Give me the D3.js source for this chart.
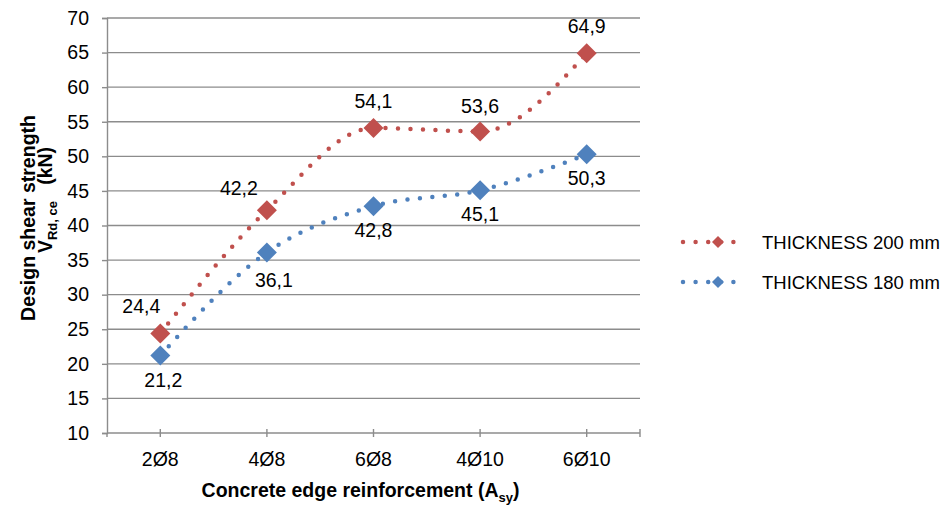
<!DOCTYPE html>
<html>
<head>
<meta charset="utf-8">
<script src="https://cdn.jsdelivr.net/npm/d3@7"></script>
<style>
  body { margin: 0; background: #fff; }
  svg { display: block; font-family: "Liberation Sans", Arial, sans-serif; }
</style>
</head>
<body>
<div id="chart"></div>
<script>
// data
const categories = ["2Ø8", "4Ø8", "6Ø8", "4Ø10", "6Ø10"];
const thickness200 = [24.4, 42.2, 54.1, 53.6, 64.9];
const thickness180 = [21.2, 36.1, 42.8, 45.1, 50.3];
const seriesNames = ["THICKNESS 200 mm", "THICKNESS 180 mm"];
const yTicks = [10, 15, 20, 25, 30, 35, 40, 45, 50, 55, 60, 65, 70];

// layout
const svgWidth = 947, svgHeight = 508;
const margin = {top: 18, right: 307, bottom: 75, left: 107};
const plotW = svgWidth - margin.left - margin.right;
const plotH = svgHeight - margin.top - margin.bottom;
const gridColour = "#8c8c8c";

const series = [
    { name: seriesNames[0], values: thickness200, colour: "#C0504D", labelSide: -1,
      nudge: [[-19, 0], [-28, 5], [0, 0], [0, 2], [0, 0]] },
    { name: seriesNames[1], values: thickness180, colour: "#4F81BD", labelSide: 1,
      nudge: [[3, 0], [7, 4], [0, 0], [0, 0], [0, 0]] }
];

const svg = d3.select("#chart").append("svg")
    .attr("width", svgWidth)
    .attr("height", svgHeight);

const x = d3.scaleBand()
    .domain(categories)
    .range([0, plotW])
    .padding(0);

const y = d3.scaleLinear()
    .domain([10, 70])
    .range([plotH, 0]);

const plotArea = svg.append("g")
    .attr("class", "plot-area")
    .attr("transform", `translate(${margin.left},${margin.top})`);

// horizontal gridlines
plotArea.append("g")
    .attr("class", "grid")
    .selectAll("line")
    .data(yTicks.filter(d => d > 10))
    .enter().append("line")
        .attr("x1", 0)
        .attr("x2", plotW)
        .attr("y1", d => y(d))
        .attr("y2", d => y(d))
        .attr("stroke", gridColour)
        .attr("stroke-width", 1.4);

// y axis
const yAxis = plotArea.append("g")
    .attr("class", "y-axis")
    .call(d3.axisLeft(y).tickValues(yTicks).tickSize(5).tickPadding(13).tickFormat(d3.format("d")));
yAxis.select(".domain").attr("stroke", gridColour).attr("stroke-width", 1.4);
yAxis.selectAll(".tick line").attr("stroke", gridColour).attr("stroke-width", 1.4);
yAxis.selectAll(".tick text")
    .attr("font-size", 19.5)
    .attr("font-family", "Liberation Sans, Arial, sans-serif")
    .attr("fill", "#000");

// x axis: ticks at category centres and both ends
const xAxis = plotArea.append("g")
    .attr("class", "x-axis")
    .attr("transform", `translate(0,${plotH})`);
xAxis.append("line")
    .attr("x1", 0).attr("x2", plotW)
    .attr("stroke", gridColour).attr("stroke-width", 1.4);
const xTickPos = [0, ...categories.map(c => x(c) + x.bandwidth() / 2), plotW];
xAxis.selectAll(".xtick")
    .data(xTickPos)
    .enter().append("line")
        .attr("class", "xtick")
        .attr("x1", d => d).attr("x2", d => d)
        .attr("y1", d => d === 0 ? 0 : -4).attr("y2", 4)
        .attr("stroke", gridColour).attr("stroke-width", 1.4);
xAxis.selectAll(".xlabel")
    .data(categories)
    .enter().append("text")
        .attr("class", "xlabel")
        .attr("x", d => x(d) + x.bandwidth() / 2)
        .attr("y", 33)
        .attr("text-anchor", "middle")
        .attr("font-size", 19.5)
        .attr("fill", "#000")
        .text(d => d);

// axis titles
const xTitle = svg.append("text")
    .attr("x", margin.left + plotW / 2 - 13)
    .attr("y", 497)
    .attr("text-anchor", "middle")
    .attr("font-size", 19.5)
    .attr("font-weight", "bold")
    .attr("fill", "#000");
xTitle.append("tspan").text("Concrete edge reinforcement (A");
xTitle.append("tspan").attr("font-size", 13).attr("dy", 5).text("sy");
xTitle.append("tspan").attr("dy", -5).text(")");

svg.append("text")
    .attr("transform", "translate(35,218) rotate(-90)")
    .attr("text-anchor", "middle")
    .attr("font-size", 19.5)
    .attr("font-weight", "bold")
    .attr("fill", "#000")
    .text("Design shear strength");

const yTitle2 = svg.append("text")
    .attr("transform", "translate(52,200) rotate(-90)")
    .attr("text-anchor", "middle")
    .attr("font-size", 19.5)
    .attr("font-weight", "bold")
    .attr("fill", "#000");
yTitle2.append("tspan").text("V");
yTitle2.append("tspan").attr("font-size", 13).attr("dy", 5).text("Rd, ce");
yTitle2.append("tspan").attr("dy", -5).text("\u00a0\u00a0 (kN)");

// lines
const line = d3.line()
    .x((d, i) => x(categories[i]) + x.bandwidth() / 2)
    .y(d => y(d))
    .curve(d3.curveMonotoneX);

const diamond = r => `M0,${-r}L${r},0L0,${r}L${-r},0Z`;
const fmt = v => v.toFixed(1).replace(".", ",");

series.forEach(s => {
    const g = plotArea.append("g").attr("class", "series");

    g.append("path")
        .datum(s.values)
        .attr("d", line)
        .attr("fill", "none")
        .attr("stroke", s.colour)
        .attr("stroke-width", 4.5)
        .attr("stroke-linecap", "round")
        .attr("stroke-dasharray", "0 12.5");

    g.selectAll(".marker")
        .data(s.values)
        .enter().append("path")
            .attr("class", "marker")
            .attr("d", diamond(10))
            .attr("transform", (d, i) => `translate(${x(categories[i]) + x.bandwidth() / 2},${y(d)})`)
            .attr("fill", s.colour);

    g.selectAll(".label")
        .data(s.values)
        .enter().append("text")
            .attr("class", "label")
            .attr("x", (d, i) => x(categories[i]) + x.bandwidth() / 2 + s.nudge[i][0])
            .attr("y", (d, i) => y(d) + (s.labelSide < 0 ? -20 : 31) + s.nudge[i][1])
            .attr("text-anchor", "middle")
            .attr("font-size", 19.5)
            .attr("fill", "#000")
            .text(d => fmt(d));
});

// legend
const legend = svg.append("g")
    .attr("class", "legend")
    .attr("transform", "translate(683,242)");

const legendItems = legend.selectAll(".legend-item")
    .data(series)
    .enter().append("g")
        .attr("class", "legend-item")
        .attr("transform", (d, i) => `translate(0,${i * 40})`);

legendItems.append("line")
    .attr("x1", 0).attr("x2", 63)
    .attr("stroke", d => d.colour)
    .attr("stroke-width", 4.5)
    .attr("stroke-linecap", "round")
    .attr("stroke-dasharray", "0 12.6");

legendItems.append("path")
    .attr("d", diamond(6))
    .attr("transform", "translate(35,0)")
    .attr("fill", d => d.colour);

legendItems.append("text")
    .attr("x", 79)
    .attr("y", 7)
    .attr("font-size", 18.5)
    .attr("fill", "#000")
    .text(d => d.name);
</script>
</body>
</html>
